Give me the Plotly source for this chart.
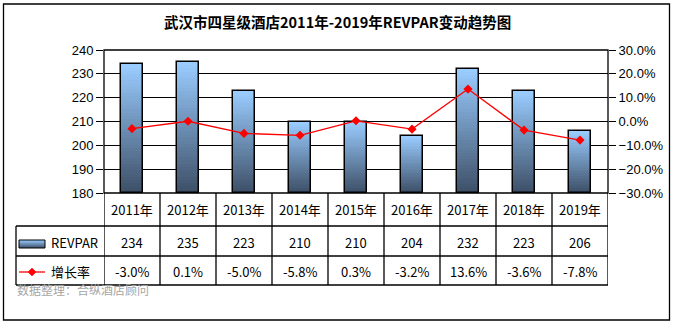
import plotly.graph_objects as go

# ---- data ----
years = ['2011年', '2012年', '2013年', '2014年', '2015年', '2016年', '2017年', '2018年', '2019年']
revpar = [234, 235, 223, 210, 210, 204, 232, 223, 206]
growth = [-3.0, 0.1, -5.0, -5.8, 0.3, -3.2, 13.6, -3.6, -7.8]
series_names = ['REVPAR', '增长率']
title_text = '武汉市四星级酒店2011年-2019年REVPAR变动趋势图'
source_text = '数据整理：合纵酒店顾问'
y_left_range = [180, 240]
y_right_range = [-30, 30]

W, H = 674, 324
L, R, T, B = 104, 608, 50, 193  # plot area in pixels


def py(p):
    return (B - p) / (B - T)


def px(p):
    return (p - L) / (R - L)


def mix(c1, c2, t):
    return '#%02x%02x%02x' % tuple(round(a + (b - a) * t) for a, b in zip(c1, c2))


dark = (0x3E, 0x50, 0x68)
light = (0x99, 0xCC, 0xFF)

xs = list(range(len(years)))
base0 = y_left_range[0]
N = 40
bw = 0.39

fig = go.Figure()
for i in range(N):
    fig.add_trace(go.Bar(
        x=xs,
        base=[base0 + (v - base0) * i / N for v in revpar],
        y=[(v - base0) * (N - i) / N for v in revpar],
        width=bw,
        marker=dict(color=mix(dark, light, i / (N - 1)), line=dict(width=0)),
        showlegend=False, hoverinfo='skip'))
fig.add_trace(go.Bar(
    x=xs, base=[base0] * len(revpar), y=[v - base0 for v in revpar], width=bw,
    marker=dict(color='rgba(0,0,0,0)', line=dict(color='black', width=1.5)),
    name=series_names[0], showlegend=False))
fig.add_trace(go.Scatter(
    x=xs, y=growth, yaxis='y2', mode='lines+markers',
    line=dict(color='#FF0000', width=1.3),
    marker=dict(symbol='diamond', size=7, color='#FF0000'),
    name=series_names[1], showlegend=False))

tickfont = dict(family='Liberation Sans, Arial', size=13, color='black')
fig.update_layout(
    width=W, height=H,
    margin=dict(l=L, r=W - R, t=T, b=H - B),
    paper_bgcolor='white', plot_bgcolor='white',
    barmode='overlay', bargap=0,
    xaxis=dict(range=[-0.5, len(years) - 0.5], showticklabels=False, showgrid=False,
               zeroline=False, fixedrange=True),
    yaxis=dict(range=y_left_range, dtick=10, showgrid=True, gridcolor='black', gridwidth=1,
               ticks='outside', ticklen=7, tickcolor='black', tickfont=tickfont,
               zeroline=False, showline=False),
    yaxis2=dict(range=y_right_range, dtick=10, overlaying='y', side='right',
                showgrid=False, zeroline=False, ticks='outside', ticklen=7, tickcolor='black',
                ticksuffix='%', tickformat='.1f', tickfont=tickfont),
    font=dict(family='Noto Sans CJK SC'),
)

shapes = []
line_k = dict(color='black', width=1.3)
# outer frame
shapes.append(dict(type='rect', xref='paper', yref='paper', x0=px(3.5), x1=px(669.5),
                   y0=py(320), y1=py(4), line=dict(color='black', width=1.3)))
# plot area frame
shapes.append(dict(type='rect', xref='paper', yref='paper', x0=0, x1=1, y0=0, y1=1,
                   line=line_k, layer='above'))
# table horizontal lines
for p in (226, 256, 285):
    shapes.append(dict(type='line', xref='paper', yref='paper', x0=px(16), x1=1,
                       y0=py(p), y1=py(p), line=line_k))
# left border of legend column
shapes.append(dict(type='line', xref='paper', yref='paper', x0=px(16), x1=px(16),
                   y0=py(226), y1=py(285), line=line_k))
# column boundaries
for k in range(len(years) + 1):
    shapes.append(dict(type='line', xref='x', yref='paper', x0=k - 0.5, x1=k - 0.5,
                       y0=py(193), y1=py(285), line=line_k))
# legend keys
for i in range(N):
    shapes.append(dict(type='rect', xref='paper', yref='paper', x0=px(19), x1=px(45),
                       y0=py(248) + (py(240) - py(248)) * i / N, y1=py(240),
                       line=dict(width=0), fillcolor=mix(dark, light, i / (N - 1))))
shapes.append(dict(type='rect', xref='paper', yref='paper', x0=px(19), x1=px(45),
                   y0=py(248), y1=py(240), line=dict(color='black', width=1)))
shapes.append(dict(type='line', xref='paper', yref='paper', x0=px(19), x1=px(45),
                   y0=py(272), y1=py(272), line=dict(color='#FF0000', width=1.3)))
shapes.append(dict(type='path', xref='paper', yref='paper', xsizemode='pixel', ysizemode='pixel',
                   xanchor=px(32), yanchor=py(272), path='M 0 4 L 4 0 L 0 -4 L -4 0 Z',
                   fillcolor='#FF0000', line=dict(color='#FF0000', width=0.5)))
fig.update_layout(shapes=shapes)

tfont = dict(family='Noto Sans CJK SC', size=13, color='black')
ann = []
ann.append(dict(text='<b>' + title_text + '</b>', xref='paper', yref='paper',
                x=px(337), y=py(22), showarrow=False, xanchor='center', yanchor='middle',
                font=dict(family='Noto Sans CJK SC', size=14.5, color='black')))
for i, yr in enumerate(years):
    ann.append(dict(text=yr, xref='x', yref='paper', x=i, y=py(209), showarrow=False,
                    xanchor='center', yanchor='middle', font=tfont))
    ann.append(dict(text=str(revpar[i]), xref='x', yref='paper', x=i, y=py(242),
                    showarrow=False, xanchor='center', yanchor='middle', font=tfont))
    ann.append(dict(text=f'{growth[i]:.1f}%', xref='x', yref='paper', x=i, y=py(271),
                    showarrow=False, xanchor='center', yanchor='middle', font=tfont))
ann.append(dict(text=series_names[0], xref='paper', yref='paper', x=px(49), y=py(242),
                showarrow=False, xanchor='left', yanchor='middle', font=tfont))
ann.append(dict(text=series_names[1], xref='paper', yref='paper', x=px(49), y=py(271),
                showarrow=False, xanchor='left', yanchor='middle', font=tfont))
ann.append(dict(text=source_text, xref='paper', yref='paper', x=px(15), y=py(289),
                showarrow=False, xanchor='left', yanchor='middle',
                font=dict(family='Noto Sans CJK SC', size=12, color='#A6A6A6')))
fig.update_layout(annotations=ann)

fig.write_html('out.html', config=dict(displayModeBar=False))
